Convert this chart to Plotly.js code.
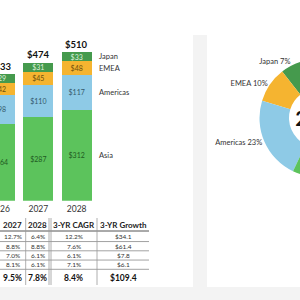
<!DOCTYPE html>
<html>
<head>
<meta charset="utf-8">
<script src="https://cdn.plot.ly/plotly-3.0.1.min.js"></script>
<style>
  html, body { margin: 0; padding: 0; overflow: hidden; background: #fff; }
  #chart { width: 380px; height: 300px; }
</style>
</head>
<body>
<div id="chart"></div>
<script>
// Revenue by region ($B), stacked bars per year
const years = ['2026', '2027', '2028'];
const regions = ['Japan', 'EMEA', 'Americas', 'Asia'];
const japan = [29, 31, 33];
const emea = [42, 45, 48];
const americas = [98, 110, 117];
const asia = [264, 287, 312];
const totals = [433, 474, 510];

// Growth table (rows: Americas, Asia, EMEA, Japan, Total)
const tableHeader = ['2027', '2028', '3-YR CAGR', '3-YR Growth'];
const growth2027 = [12.7, 8.8, 7.0, 8.1, 9.5];
const growth2028 = [6.4, 8.8, 6.1, 6.1, 7.8];
const cagr3yr = [12.2, 7.6, 6.1, 7.1, 8.4];
const growth3yr = [34.1, 61.4, 7.8, 6.1, 109.4];

// Regional mix donut for the first year shown
const mixYearIndex = 0;

const FONT = 'Lato, "Open Sans", sans-serif';
const W = 380, H = 300;
const px = v => v / W;
const py = v => 1 - v / H;

const fills = { Japan: '#459a4d', EMEA: '#f5b430', Americas: '#8ecae6', Asia: '#5cc35c' };
const inkOn = { Japan: '#dff1df', EMEA: '#6b500f', Americas: '#34596b', Asia: '#1f5a22' };
const series = { Japan: japan, EMEA: emea, Americas: americas, Asia: asia };

// stacked from the bottom: Asia, Americas, EMEA, Japan
const traces = regions.slice().reverse().map(r => ({
  type: 'bar',
  name: r,
  x: years,
  y: series[r],
  marker: { color: fills[r], line: { width: 0 } },
  texttemplate: '$%{y}',
  textposition: 'inside',
  insidetextanchor: 'middle',
  textangle: 0,
  constraintext: 'none',
  textfont: { family: FONT, size: 7, color: inkOn[r] },
  hoverinfo: 'skip',
  showlegend: false
}));

traces.push({
  type: 'pie',
  labels: regions,
  values: regions.map(r => series[r][mixYearIndex]),
  sort: false,
  direction: 'counterclockwise',
  rotation: -38,
  hole: 0.5,
  marker: { colors: regions.map(r => fills[r]), line: { width: 0 } },
  texttemplate: '%{label} %{percent:.0%}',
  textposition: 'outside',
  outsidetextfont: { family: FONT, size: 7.5, color: '#333' },
  title: { text: '<b>' + years[mixYearIndex] + '</b>', position: 'middle center',
           font: { family: FONT, size: 20, color: '#111' } },
  domain: { x: [px(259.5), px(377.5)], y: [py(177), py(59)] },
  automargin: false,
  showlegend: false,
  hoverinfo: 'skip'
});

const annotations = [];
const shapes = [];

// totals above bars (category axis positions are serial indices)
years.forEach((yr, i) => {
  annotations.push({
    xref: 'x', yref: 'y', x: i, y: totals[i], yanchor: 'bottom',
    text: '<b>$' + totals[i] + '</b>', showarrow: false,
    font: { family: FONT, size: 9.5, color: '#111' }
  });
});

// region names beside the last bar, at each segment's middle
{
  const last = years.length - 1;
  let base = 0;
  regions.slice().reverse().forEach(r => {
    const v = series[r][last];
    annotations.push({
      xref: 'x', yref: 'y', x: last, y: base + v / 2,
      xanchor: 'left', xshift: 20.5, yanchor: 'middle',
      text: r, showarrow: false,
      font: { family: FONT, size: 7.5, color: '#333' }
    });
    base += v;
  });
}

// background gutters between dashboard cards
shapes.push({ type: 'rect', xref: 'paper', yref: 'paper', layer: 'below',
  x0: px(193), x1: px(207), y0: py(300), y1: py(35), fillcolor: '#f3f3f3', line: { width: 0 } });
shapes.push({ type: 'rect', xref: 'paper', yref: 'paper', layer: 'below',
  x0: 0, x1: 1, y0: py(300), y1: py(287), fillcolor: '#f3f3f3', line: { width: 0 } });

// growth table
const colEdges = [0, 25.7, 50, 97, 149];
const headTop = 218, headLine = 231, rowTop = 232.3, rowH = 9.25, tableBottom = 287;
const colText = [
  growth2027.map(v => v.toFixed(1) + '%'),
  growth2028.map(v => v.toFixed(1) + '%'),
  cagr3yr.map(v => v.toFixed(1) + '%'),
  growth3yr.map(v => '$' + v.toFixed(1))
];
const nRows = growth2027.length;
const rowLines = [];
for (let k = 1; k < nRows; k++) rowLines.push(rowTop + rowH * k);
const totalTop = rowLines[rowLines.length - 1];

tableHeader.forEach((h, c) => {
  const cx = (colEdges[c] + colEdges[c + 1]) / 2;
  annotations.push({ xref: 'paper', yref: 'paper', x: px(cx), y: py((headTop + headLine) / 2),
    xanchor: 'center', yanchor: 'middle', showarrow: false,
    text: '<b>' + h + '</b>', font: { family: FONT, size: 8, color: '#222' } });
  colText[c].forEach((t, k) => {
    const isTotal = k === nRows - 1;
    const cy = isTotal ? (totalTop + tableBottom) / 2 : rowTop + rowH * (k + 0.5);
    annotations.push({ xref: 'paper', yref: 'paper', x: px(cx), y: py(cy),
      xanchor: 'center', yanchor: 'middle', showarrow: false,
      text: isTotal ? '<b>' + t + '</b>' : t,
      font: { family: FONT, size: isTotal ? 8.5 : 6.5, color: isTotal ? '#111' : '#333' } });
  });
});

const hline = (y, color, w) => shapes.push({ type: 'line', xref: 'paper', yref: 'paper',
  x0: px(colEdges[0]), x1: px(colEdges[colEdges.length - 1]), y0: py(y), y1: py(y),
  line: { color: color, width: w } });
const vline = (x, color, w) => shapes.push({ type: 'line', xref: 'paper', yref: 'paper',
  x0: px(x), x1: px(x), y0: py(headTop), y1: py(tableBottom - 2),
  line: { color: color, width: w } });

hline(headLine, '#555', 1);
rowLines.forEach(y => hline(y, '#8a8a8a', 0.8));
vline(colEdges[1], '#999', 0.8);
vline(colEdges[2] - 1, '#999', 0.8);
vline(colEdges[2] + 1, '#999', 0.8);
vline(colEdges[3], '#999', 0.8);

const layout = {
  width: W, height: H,
  margin: { l: 0, r: 0, t: 0, b: 0 },
  paper_bgcolor: '#fff', plot_bgcolor: 'rgba(0,0,0,0)',
  barmode: 'stack', bargap: 0.22,
  font: { family: FONT, color: '#333' },
  xaxis: {
    domain: [0, px(150)], type: 'category', range: [0, 150 / 38.33],
    showgrid: false, zeroline: false, showline: false, ticks: '',
    ticklabelstandoff: 2,
    tickfont: { family: FONT, size: 8.5, color: '#333' }, fixedrange: true
  },
  yaxis: {
    domain: [py(200.7), py(25.4)], range: [0, 600], visible: false, fixedrange: true
  },
  annotations: annotations,
  shapes: shapes,
  showlegend: false
};

Plotly.newPlot('chart', traces, layout, { staticPlot: true, displayModeBar: false });
</script>
</body>
</html>
